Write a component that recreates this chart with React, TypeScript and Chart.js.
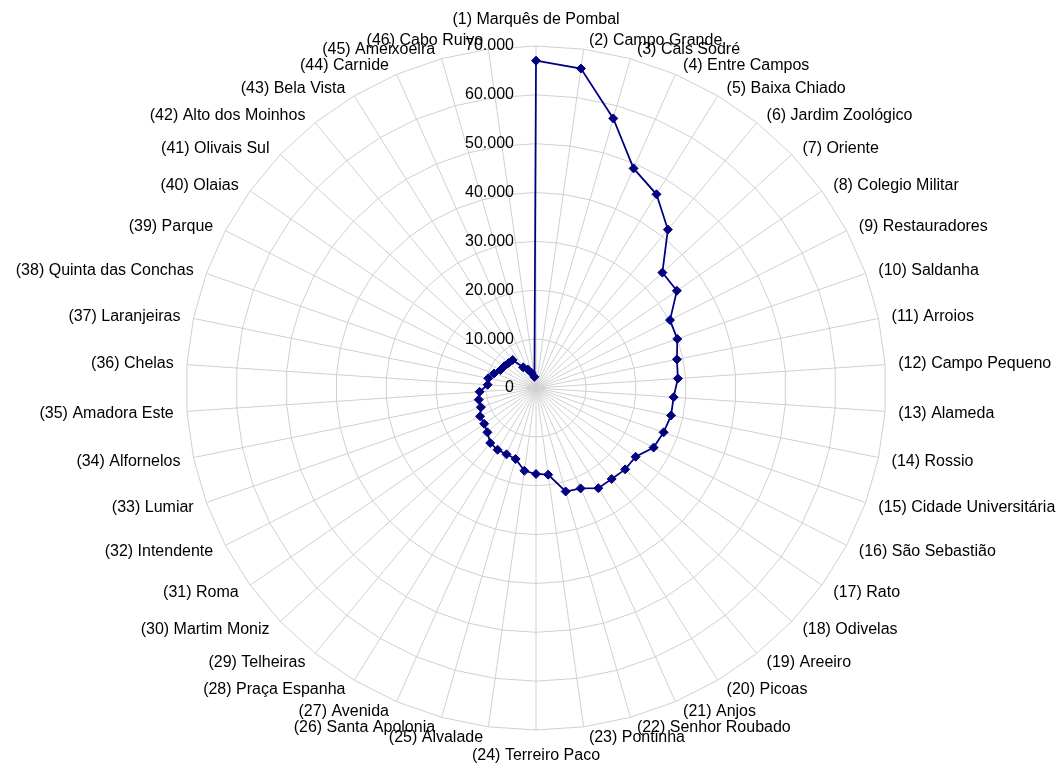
import React, { useEffect, useRef } from 'react';
import { Chart, registerables, RadialLinearScale } from 'chart.js';

Chart.register(...registerables);

const CATEGORIES: string[] = [
  'Marquês de Pombal', 'Campo Grande', 'Cais Sodré', 'Entre Campos', 'Baixa Chiado',
  'Jardim Zoológico', 'Oriente', 'Colegio Militar', 'Restauradores', 'Saldanha',
  'Arroios', 'Campo Pequeno', 'Alameda', 'Rossio', 'Cidade Universitária',
  'São Sebastião', 'Rato', 'Odivelas', 'Areeiro', 'Picoas',
  'Anjos', 'Senhor Roubado', 'Pontinha', 'Terreiro Paco', 'Alvalade',
  'Santa Apolonia', 'Avenida', 'Praça Espanha', 'Telheiras', 'Martim Moniz',
  'Roma', 'Intendente', 'Lumiar', 'Alfornelos', 'Amadora Este',
  'Chelas', 'Laranjeiras', 'Quinta das Conchas', 'Parque', 'Olaias',
  'Olivais Sul', 'Alto dos Moinhos', 'Bela Vista', 'Carnide', 'Ameixoeira',
  'Cabo Ruivo',
];

const VALUES: number[] = [
  67000, 66000, 57300, 49000, 46400, 41800, 34600, 34500, 30200, 30000,
  28800, 28450, 27600, 27600, 27100, 26500, 24400, 24400, 24000, 24000,
  22400, 22000, 17900, 17600, 17100, 15100, 14800, 14800, 14500, 13300,
  12700, 12600, 11700, 11700, 11300, 9700, 9750, 8900, 8000, 7750,
  7500, 7400, 4950, 4150, 3200, 2300,
];

const TICK_VALUES: number[] = [0, 10000, 20000, 30000, 40000, 50000, 60000, 70000];
const TICK_LABELS: string[] = ['0', '10.000', '20.000', '30.000', '40.000', '50.000', '60.000', '70.000'];

const STRETCH_X = 1.023;
const FONT = '16px "Liberation Sans", Arial, sans-serif';

class StretchedRadialScale extends RadialLinearScale {
  static id = 'stretchedRadial';
  static defaults = RadialLinearScale.defaults;
  getPointPosition(index: number, distanceFromCenter: number, additionalAngle = 0) {
    const p: any = super.getPointPosition(index, distanceFromCenter, additionalAngle);
    return { x: this.xCenter + (p.x - this.xCenter) * STRETCH_X, y: p.y, angle: p.angle };
  }
}
Chart.register(StretchedRadialScale as any);

const labelPlugin = {
  id: 'excelLabels',
  afterDraw(chart: any) {
    const scale = chart.scales.r;
    const ctx = chart.ctx as CanvasRenderingContext2D;
    ctx.save();
    ctx.font = FONT;
    ctx.fillStyle = '#000000';
    ctx.textBaseline = 'middle';
    ctx.textAlign = 'right';
    scale.ticks.forEach((t: any) => {
      const idx = TICK_VALUES.indexOf(t.value);
      const label = idx >= 0 ? TICK_LABELS[idx] : String(t.label);
      const y = scale.yCenter - scale.getDistanceFromCenterForValue(t.value);
      ctx.fillText(label, scale.xCenter - 22, y);
    });
    const n = CATEGORIES.length;
    const R = scale.drawingArea;
    CATEGORIES.forEach((name, i) => {
      const text = `(${i + 1}) ${name}`;
      const v = scale.getPointPosition(i, R);
      const a = scale.getPointPosition(i, R + 9);
      const theta = (i / n) * 2 * Math.PI;
      const s = Math.sin(theta);
      const c = Math.cos(theta);
      if (Math.abs(s) < 1e-6) {
        ctx.textAlign = 'center';
        ctx.fillText(text, v.x, c > 0 ? v.y - 26 : v.y + 26);
      } else {
        ctx.textAlign = s > 0 ? 'left' : 'right';
        ctx.fillText(text, s > 0 ? a.x + 4 : a.x - 4, a.y + (c < 0 ? 2 : 0));
      }
    });
    ctx.restore();
  },
};

export default function App() {
  const canvasRef = useRef<HTMLCanvasElement | null>(null);

  useEffect(() => {
    if (!canvasRef.current) return;
    const chart = new Chart(canvasRef.current, {
      type: 'radar',
      data: {
        labels: CATEGORIES.map((c, i) => `(${i + 1}) ${c}`),
        datasets: [
          {
            data: VALUES,
            borderColor: '#000080',
            backgroundColor: '#000080',
            borderWidth: 1.75,
            fill: false,
            pointStyle: 'rectRot',
            pointRadius: 4.5,
            pointBackgroundColor: '#000080',
            pointBorderColor: '#000080',
            pointBorderWidth: 1,
            tension: 0,
          },
        ],
      },
      options: {
        animation: false,
        responsive: false,
        devicePixelRatio: 1,
        layout: { padding: { top: 46, bottom: 33, left: 182, right: 173 } },
        plugins: { legend: { display: false }, tooltip: { enabled: false } },
        scales: {
          r: {
            type: 'stretchedRadial' as any,
            min: 0,
            max: 70000,
            beginAtZero: true,
            ticks: { display: false, stepSize: 10000 },
            grid: { circular: false, color: '#d0d0d0', lineWidth: 1 },
            angleLines: { display: true, color: '#d0d0d0', lineWidth: 1 },
            pointLabels: { display: false },
          } as any,
        },
      },
      plugins: [labelPlugin],
    });
    return () => chart.destroy();
  }, []);

  return (
    <div style={{ position: 'fixed', left: 0, top: 0, width: 1063, height: 763, background: '#ffffff' }}>
      <canvas ref={canvasRef} width={1063} height={763} style={{ display: 'block' }} />
    </div>
  );
}
